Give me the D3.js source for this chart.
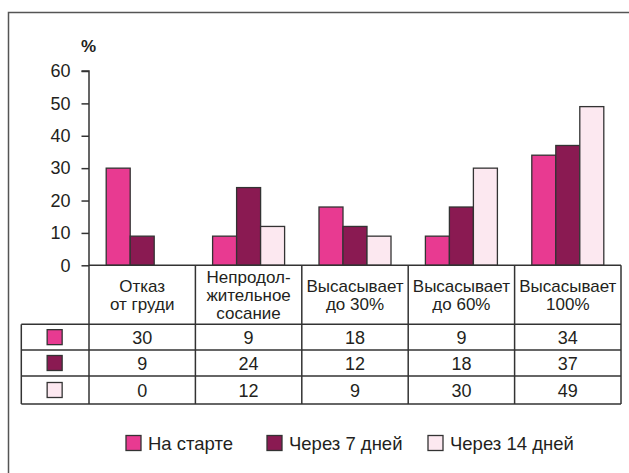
<!DOCTYPE html>
<html>
<head>
<meta charset="utf-8">
<script src="https://cdn.jsdelivr.net/npm/d3@7"></script>
<style>
    body{margin:0;background:#fff;}
    text{font-family:"Liberation Sans",Arial,sans-serif;fill:#231f20;}
</style>
</head>
<body>
<svg id="chart" width="629" height="473"></svg>
<script>
const categories = [['Отказ','от груди'],['Непродол-','жительное','сосание'],['Высасывает','до 30%'],['Высасывает','до 60%'],['Высасывает','100%']];
const seriesNames = ['На старте','Через 7 дней','Через 14 дней'];
const seriesColors = ['#e83a91','#8a1a52','#fce8f0'];
const start = [30, 9, 18, 9, 34];
const day7 = [9, 24, 12, 18, 37];
const day14 = [0, 12, 9, 30, 49];
const yTicks = [0,10,20,30,40,50,60];
const series = [start, day7, day14];

const svg = d3.select('#chart');
const ink = '#333';

// frame
svg.append('path')
    .attr('d','M8.5,473 V12.5 H629')
    .attr('fill','none').attr('stroke','#555').attr('stroke-width',1.5);

const x = d3.scaleBand().domain(d3.range(categories.length)).range([89, 621]);
const xs = d3.scaleBand().domain(d3.range(series.length)).range([0, 72]);
const y = d3.scaleLinear().domain([0, 60]).range([265.3, 71]);

const g = svg.append('g');

// y axis
const yAxis = g.append('g').attr('transform','translate(89,0)')
    .call(d3.axisLeft(y).tickValues(yTicks).tickSize(7.5).tickPadding(11));
yAxis.select('.domain').attr('d',`M-7.5,${y(60)}H0V${y(0)}`).attr('stroke',ink).attr('stroke-width',1.5);
yAxis.selectAll('.tick line').attr('stroke',ink).attr('stroke-width',1.5);
yAxis.selectAll('.tick text').style('font-size','18px').attr('fill','#231f20').attr('font-family','Liberation Sans, Arial, sans-serif');
g.append('text').attr('x',81).attr('y',52).text('%').style('font-size','17px').style('font-weight','bold');

// bars
series.forEach((vals, si) => {
    g.append('g').selectAll('rect').data(vals).join('rect')
        .attr('x',(d,i)=>x(i) + (x.bandwidth()-72)/2 + xs(si))
        .attr('y',d=>y(d))
        .attr('width',xs.bandwidth())
        .attr('height',d=>y(0)-y(d))
        .attr('fill',seriesColors[si])
        .attr('stroke',d=>d>0?ink:'none')
        .attr('stroke-width',1.3);
});

// table
const rowY = [265.3, 324.3, 350, 376, 404];
const tableLeft = 21.3;
const tl = g.append('g').attr('stroke',ink).attr('stroke-width',1.5);
tl.append('line').attr('x1',89).attr('x2',621).attr('y1',rowY[0]).attr('y2',rowY[0]);
rowY.slice(1).forEach(yy => tl.append('line').attr('x1',tableLeft).attr('x2',621).attr('y1',yy).attr('y2',yy));
tl.append('line').attr('x1',tableLeft).attr('x2',tableLeft).attr('y1',rowY[1]).attr('y2',rowY[4]);
d3.range(categories.length+1).forEach(i => {
    const xx = i < categories.length ? x(i) : x.range()[1];
    tl.append('line').attr('x1',xx).attr('x2',xx).attr('y1',rowY[0]).attr('y2',rowY[4]);
});

// header text
categories.forEach((lines, i) => {
    const cx = x(i) + x.bandwidth()/2;
    const lh = 18;
    const y0 = (rowY[0]+rowY[1])/2 - (lines.length-1)*lh/2 + 6;
    const t = g.append('text').attr('text-anchor','middle').style('font-size','17px');
    lines.forEach((l, k) => t.append('tspan').attr('x',cx).attr('y',y0 + k*lh).text(l));
});

// values
series.forEach((vals, si) => {
    const cy = (rowY[si+1]+rowY[si+2])/2 + 6.5;
    g.append('rect').attr('x',tableLeft + (89-tableLeft)/2 - 8).attr('y',cy-6.5-7.5)
        .attr('width',15).attr('height',15)
        .attr('fill',seriesColors[si]).attr('stroke',ink).attr('stroke-width',1.3);
    g.append('g').selectAll('text').data(vals).join('text')
        .attr('x',(d,i)=>x(i)+x.bandwidth()/2)
        .attr('y',cy)
        .attr('text-anchor','middle')
        .style('font-size','18px')
        .text(d=>d);
});

// legend
const legendX = [126, 267, 428];
seriesNames.forEach((name, si) => {
    g.append('rect').attr('x',legendX[si]).attr('y',435.5).attr('width',15).attr('height',15)
        .attr('fill',seriesColors[si]).attr('stroke',ink).attr('stroke-width',1.3);
    g.append('text').attr('x',legendX[si]+22).attr('y',449.5).style('font-size','18.5px').text(name);
});
</script>
</body>
</html>
